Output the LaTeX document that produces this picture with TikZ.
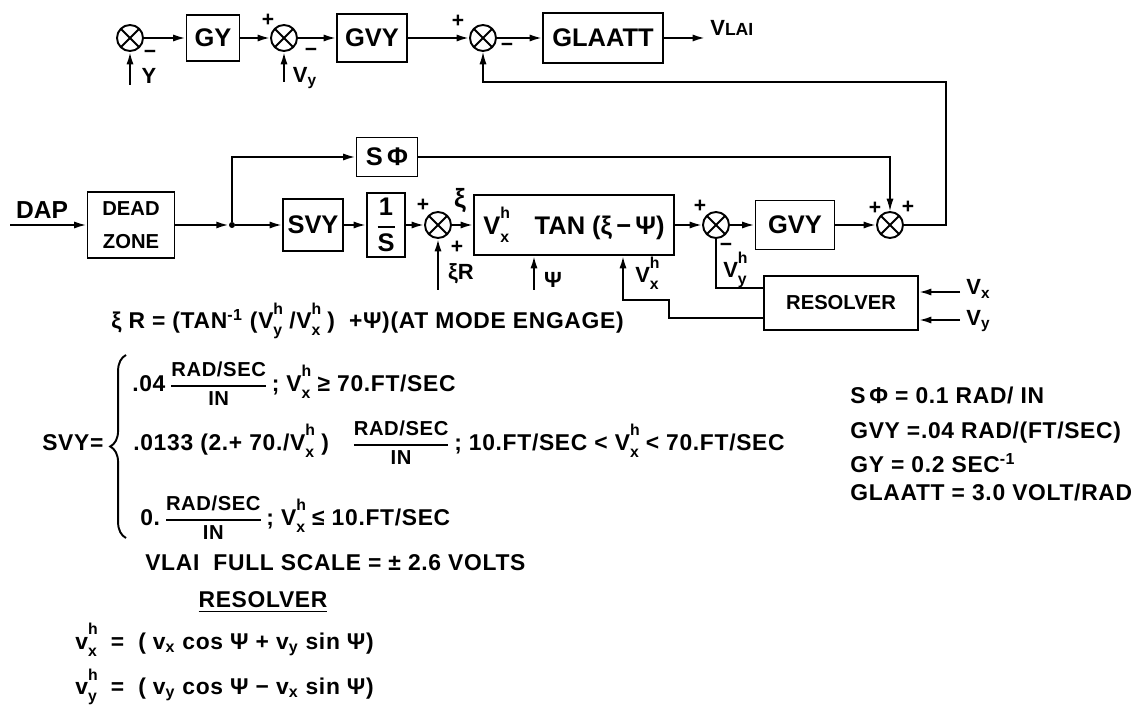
\documentclass[tikz,border=0pt]{standalone}
\usepackage{fontspec}
\setmainfont{Liberation Sans}
\usepackage{amsmath}
\usetikzlibrary{arrows.meta,decorations.pathreplacing}

\newdimen\px \px=0.02cm
% V with stacked h / subscript
\newcommand\sh[2]{#1\rlap{\raisebox{0.62em}{\fontsize{9}{9}\selectfont h}}\raisebox{-0.32em}{\fontsize{9}{9}\selectfont #2}}
\newcommand\rs{$\genfrac{}{}{1pt}{0}{\text{\fontsize{11.5}{12}\selectfont RAD/SEC}}{\text{\fontsize{11.5}{12}\selectfont IN}}$}

\begin{document}
\begin{tikzpicture}[x=0.02cm,y=-0.02cm,
  blk/.style={draw,line width=1.1pt,inner sep=0pt,font=\fontsize{14.5}{16}\selectfont\bfseries},
  sumj/.style={circle,draw,line width=1.1pt,minimum size=26\px,inner sep=0pt,
    path picture={\draw[line width=1.1pt] (path picture bounding box.north west)--(path picture bounding box.south east)
      (path picture bounding box.south west)--(path picture bounding box.north east);}},
  sig/.style={-{Latex[length=7pt,width=4pt]},line width=1.1pt},
  wire/.style={line width=1.1pt},
  faint/.style={line width=0.7pt},
  lbl/.style={inner sep=0pt,font=\fontsize{12.5}{14}\selectfont\bfseries},
  pm/.style={inner sep=0pt,font=\fontsize{12}{12}\selectfont\bfseries},
  eqn/.style={anchor=west,inner sep=0pt,font=\fontsize{13}{15}\selectfont\bfseries\addfontfeature{LetterSpace=3}}
]
\fill[white] (0,0) rectangle (1146,705);
\useasboundingbox (0,0) rectangle (1146,705);

% Outer loop (top row)
\node[sumj] (s1) at (130,38) {};
\node[blk,minimum width=53\px,minimum height=46\px] (gy) at (213,38) {GY};
\node[sumj] (s2) at (284,38) {};
\node[blk,minimum width=70\px,minimum height=48\px] (gvya) at (372,38) {GVY};
\node[sumj] (s3) at (483,38) {};
\node[blk,minimum width=120\px,minimum height=50\px] (glaatt) at (603,38) {GLAATT};
\coordinate (vlai) at (705,38);
\node[lbl,anchor=west] (vlailbl) at (710,28) {V{\fontsize{10}{10}\selectfont LAI}};

\draw[sig] (s1) -- (gy);
\draw[sig] (gy) -- (s2);
\draw[sig] (s2) -- (gvya);
\draw[sig] (gvya) -- (s3);
\draw[sig] (s3) -- (glaatt);
\draw[sig] (glaatt) -- (vlai);

\coordinate (yin) at (130,85);
\draw[sig] (yin) -- (s1);
\node[lbl] (ylbl) at (149,76) {Y};
\coordinate (vyin) at (284,82);
\draw[sig] (vyin) -- (s2);
\node[lbl] (vylbl) at (305,78) {V\textsubscript{y}};

% Inner loop (middle row)
\coordinate (dap) at (10,225);
\node[lbl,font=\fontsize{14}{16}\selectfont\bfseries] (daplbl) at (42,210) {DAP};
\node[blk,minimum width=87\px,minimum height=66\px,align=center,
  font=\fontsize{11.5}{19}\selectfont\bfseries] (dz) at (131,225) {DEAD\\ZONE};
\node[circle,fill,inner sep=0pt,minimum size=6\px] (jn) at (232,225) {};
\node[blk,minimum width=61\px,minimum height=39\px] (sphi) at (387,157) {S\,Φ};
\node[blk,minimum width=60\px,minimum height=52\px] (svy) at (313,225) {SVY};
\node[blk,minimum width=38\px,minimum height=64\px] (ints) at (386,225)
  {$\genfrac{}{}{1.1pt}{0}{\text{1}}{\text{S}}$};
\node[sumj] (s4) at (438,225) {};
\node[blk,minimum width=200\px,minimum height=60\px] (tanb) at (574,225) {\sh{V}{x}\quad TAN (ξ\,−\,Ψ)};
\node[sumj] (s5) at (716,225) {};
\node[blk,minimum width=79\px,minimum height=49\px] (gvyb) at (795,225) {GVY};
\node[sumj] (s6) at (890,225) {};
\node[blk,minimum width=154\px,minimum height=54\px,font=\fontsize{11.5}{14}\selectfont\bfseries] (res) at (841,303) {RESOLVER};

\draw[sig] (dap) -- (dz);
\draw[sig] (dz) -- (jn);
\draw[sig] (jn) -- (svy);
\draw[sig] (jn) |- (sphi);
\draw[sig] (svy) -- (ints);
\draw[sig] (ints) -- (s4);
\draw[sig] (s4) -- (tanb);
\draw[sig] (tanb) -- (s5);
\draw[sig] (s5) -- (gvyb);
\draw[sig] (gvyb) -- (s6);
\draw[sig,faint] (sphi) -| (s6);

% feedback to outer loop
\coordinate (fbr) at (946,82);
\draw[sig,faint] (s6) -| (fbr) -| (s3);

% side inputs
\coordinate (xirin) at (438,290);
\draw[sig] (xirin) -- (s4);
\node[lbl] (xirlbl) at (461,274) {ξR};
\coordinate (psiin) at (534,290);
\draw[sig] (psiin) -- (psiin |- tanb.south);
\node[lbl] (psilbl) at (553,280) {Ψ};
\coordinate (vxk) at (669,318);
\coordinate (vxb) at (623,300);
\draw[sig] (vxk -| res.west) -- (vxk) |- (vxb) -- (vxb |- tanb.south);
\node[lbl] (vxhlbl) at (647,273) {\sh{V}{x}};
\coordinate (vyk) at (716,288);
\draw[wire] (vyk -| res.west) -| (s5);
\node[lbl] (vyhlbl) at (735,270) {\sh{V}{y}};
\coordinate (vxin) at (960,292);
\draw[sig] (vxin) -- (vxin -| res.east);
\node[lbl,anchor=west] (vxlbl) at (966,289) {V\textsubscript{x}};
\coordinate (vyin2) at (960,320);
\draw[sig] (vyin2) -- (vyin2 -| res.east);
\node[lbl,anchor=west] (vylbl2) at (966,321) {V\textsubscript{y}};

% signs at the summing junctions
\foreach \n/\x/\y/\t in {m1/150/54/−, p2/268/20/+, m2/311/52/−, p3/458/21/+, m3/507/47/−,
  p4/423/205/+, q4/457/247/+, p5/700/206/+, m5/726/247/−, p6/875/208/+, q6/908/207/+}{
  \node[pm] (\n) at (\x,\y) {\t};
}
\node[lbl,font=\fontsize{15}{15}\selectfont\bfseries] (xilbl) at (460,201) {ξ};

% equations
\node[eqn] (xireq) at (111,321) {ξ R = (TAN\textsuperscript{-1} (\sh{V}{y} /\sh{V}{x} )\ \ +Ψ)(AT MODE ENGAGE)};
\node[eqn] (svyeq) at (42,443) {SVY=};
\draw[line width=1.1pt,decorate,decoration={brace,amplitude=9pt}] (126,538) -- (126,355);
\node[eqn] (svy1) at (132,384) {.04\,\rs\,; \sh{V}{x} ≥ 70.FT/SEC};
\node[eqn] (svy2) at (133,443) {.0133 (2.+ 70./\sh{V}{x} )\quad\rs\,; 10.FT/SEC < \sh{V}{x} < 70.FT/SEC};
\node[eqn] (svy3) at (140,518) {0.\,\rs\,; \sh{V}{x} ≤ 10.FT/SEC};

\foreach \n/\y/\t in {k1/395/{S\,Φ = 0.1 RAD/ IN}, k2/433/{GVY =.04 RAD/(FT/SEC)},
  k3/463/{GY = 0.2 SEC\textsuperscript{-1}}, k4/492/{GLAATT = 3.0 VOLT/RAD}}{
  \node[eqn] (\n) at (850,\y) {\t};
}

\node[eqn] (fs) at (145,563) {VLAI \ FULL SCALE = ± 2.6 VOLTS};
\node[eqn,anchor=center] (rtitle) at (263,602) {\underline{RESOLVER}};
\node[eqn] (r1) at (75,640) {\sh{v}{x} \ = \ ( v\textsubscript{x} cos Ψ + v\textsubscript{y} sin Ψ)};
\node[eqn] (r2) at (75,687) {\sh{v}{y} \ = \ ( v\textsubscript{y} cos Ψ − v\textsubscript{x} sin Ψ)};
\end{tikzpicture}
\end{document}
